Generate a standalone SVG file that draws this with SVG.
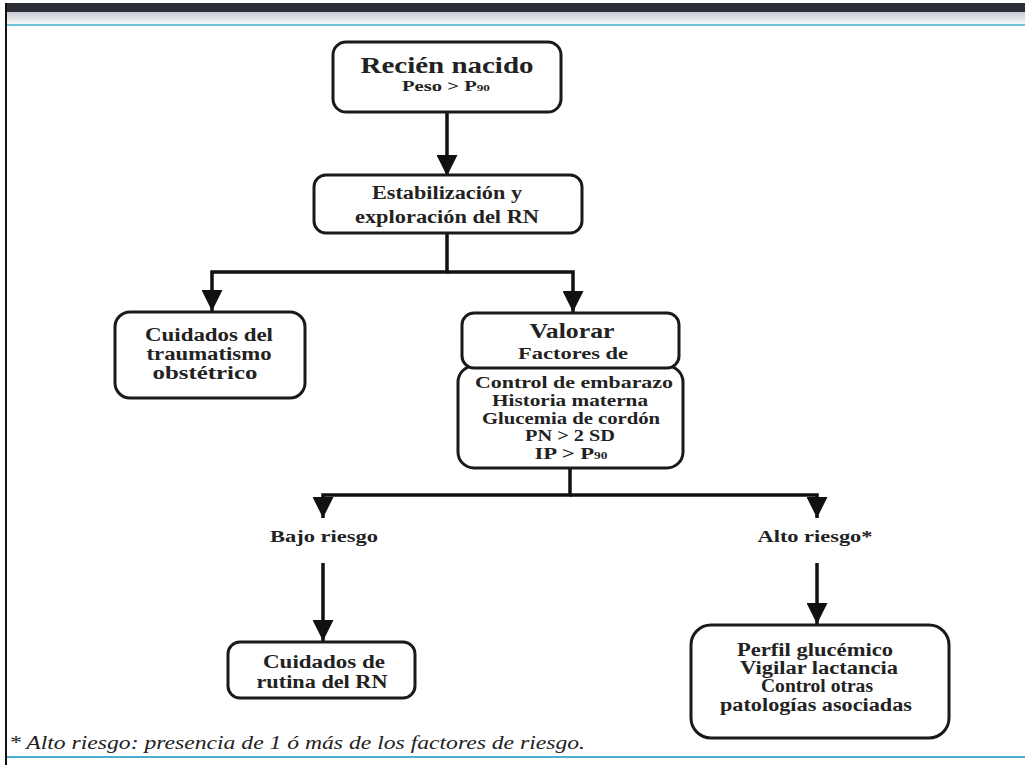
<svg xmlns="http://www.w3.org/2000/svg" width="1025" height="765" viewBox="0 0 1025 765">
<defs>
<style>
.box{fill:#fff;stroke:#1a1a1a;stroke-width:3}
.t{font-family:"Liberation Serif","Times New Roman",serif;font-weight:bold;fill:#222;text-anchor:middle}
.c{fill:none;stroke:#111;stroke-width:3.5}
.fn{font-family:"Liberation Serif","Times New Roman",serif;font-style:italic;fill:#222;font-size:19px}
</style>
<marker id="ah" viewBox="0 0 10 10" refX="10" refY="5" markerWidth="6" markerHeight="6" markerUnits="strokeWidth" orient="auto">
<path d="M0,0 L10,5 L0,10 z" fill="#111"/>
</marker>
<linearGradient id="hdr" x1="0" y1="0" x2="0" y2="1">
<stop offset="0" stop-color="#c9cbd2"/>
<stop offset="1" stop-color="#f4f8f8"/>
</linearGradient>
</defs>
<rect x="0" y="0" width="1025" height="765" fill="#fff"/>
<g id="frame">
<rect x="5" y="3" width="1020" height="9" fill="#2b2e35"/>
<rect x="5" y="12" width="1020" height="12" fill="url(#hdr)"/>
<rect x="5" y="24" width="1020" height="2" fill="#6cc6d8"/>
<rect x="5" y="756" width="1020" height="2" fill="#4aaed0"/>
<rect x="5" y="3" width="2" height="762" fill="#111"/>
</g>
<g id="connectors">
<line class="c" x1="447" y1="112" x2="447" y2="176" marker-end="url(#ah)"/>
<polyline class="c" points="447,233 447,272 212,272 212,311" marker-end="url(#ah)"/>
<polyline class="c" points="447,272 573,272 573,312" marker-end="url(#ah)"/>
<polyline class="c" points="570,468 570,495 323,495 323,518" marker-end="url(#ah)"/>
<polyline class="c" points="570,495 817,495 817,518" marker-end="url(#ah)"/>
<line class="c" x1="323" y1="563" x2="323" y2="641" marker-end="url(#ah)"/>
<line class="c" x1="817" y1="563" x2="817" y2="624" marker-end="url(#ah)"/>
</g>
<g id="n-recien">
<rect class="box" x="333" y="42" width="228" height="70" rx="13"/>
<text class="t" x="447" y="73" font-size="24" textLength="173" lengthAdjust="spacingAndGlyphs">Recién nacido</text>
<text class="t" x="446" y="91" font-size="14" textLength="88" lengthAdjust="spacingAndGlyphs">Peso &gt; P<tspan font-size="9">90</tspan></text>
</g>
<g id="n-estab">
<rect class="box" x="314" y="175" width="268" height="58" rx="12"/>
<text class="t" x="447" y="199" font-size="18" textLength="150" lengthAdjust="spacingAndGlyphs">Estabilización y</text>
<text class="t" x="447" y="223" font-size="18" textLength="184" lengthAdjust="spacingAndGlyphs">exploración del RN</text>
</g>
<g id="n-trauma">
<rect class="box" x="115" y="312" width="190" height="86" rx="15"/>
<text class="t" x="209" y="341" font-size="18" textLength="128" lengthAdjust="spacingAndGlyphs">Cuidados del</text>
<text class="t" x="209" y="360" font-size="18" textLength="125" lengthAdjust="spacingAndGlyphs">traumatismo</text>
<text class="t" x="205" y="379" font-size="18" textLength="105" lengthAdjust="spacingAndGlyphs">obstétrico</text>
</g>
<g id="n-factores">
<rect class="box" x="458" y="366" width="225" height="102" rx="16"/>
<rect class="box" x="462" y="313" width="217" height="55" rx="12"/>
<text class="t" x="572" y="338" font-size="21" textLength="85" lengthAdjust="spacingAndGlyphs">Valorar</text>
<text class="t" x="573" y="359" font-size="17" textLength="110" lengthAdjust="spacingAndGlyphs">Factores de</text>
<text class="t" x="574" y="388" font-size="17" textLength="198" lengthAdjust="spacingAndGlyphs">Control de embarazo</text>
<text class="t" x="570" y="406" font-size="17" textLength="156" lengthAdjust="spacingAndGlyphs">Historia materna</text>
<text class="t" x="571" y="424" font-size="17" textLength="178" lengthAdjust="spacingAndGlyphs">Glucemia de cordón</text>
<text class="t" x="570" y="441" font-size="17" textLength="90" lengthAdjust="spacingAndGlyphs">PN &gt; 2 SD</text>
<text class="t" x="571" y="459" font-size="17" textLength="73" lengthAdjust="spacingAndGlyphs">IP &gt; P<tspan font-size="10">90</tspan></text>
</g>
<g id="n-bajo">
<text class="t" x="324" y="542" font-size="17" textLength="108" lengthAdjust="spacingAndGlyphs">Bajo riesgo</text>
</g>
<g id="n-alto">
<text class="t" x="815" y="542" font-size="17" textLength="115" lengthAdjust="spacingAndGlyphs">Alto riesgo*</text>
</g>
<g id="n-rutina">
<rect class="box" x="228" y="642" width="187" height="56" rx="12"/>
<text class="t" x="324" y="668" font-size="18" textLength="122" lengthAdjust="spacingAndGlyphs">Cuidados de</text>
<text class="t" x="322" y="688" font-size="18" textLength="131" lengthAdjust="spacingAndGlyphs">rutina del RN</text>
</g>
<g id="n-perfil">
<rect class="box" x="691" y="625" width="258" height="113" rx="20"/>
<text class="t" x="815" y="656" font-size="18" textLength="156" lengthAdjust="spacingAndGlyphs">Perfil glucémico</text>
<text class="t" x="819" y="674" font-size="18" textLength="158" lengthAdjust="spacingAndGlyphs">Vigilar lactancia</text>
<text class="t" x="817" y="692" font-size="18" textLength="112" lengthAdjust="spacingAndGlyphs">Control otras</text>
<text class="t" x="816" y="711" font-size="18" textLength="192" lengthAdjust="spacingAndGlyphs">patologías asociadas</text>
</g>
<g id="footnote">
<text class="fn" x="9" y="749" textLength="576" lengthAdjust="spacingAndGlyphs">* Alto riesgo: presencia de 1 ó más de los factores de riesgo.</text>
</g>
</svg>
